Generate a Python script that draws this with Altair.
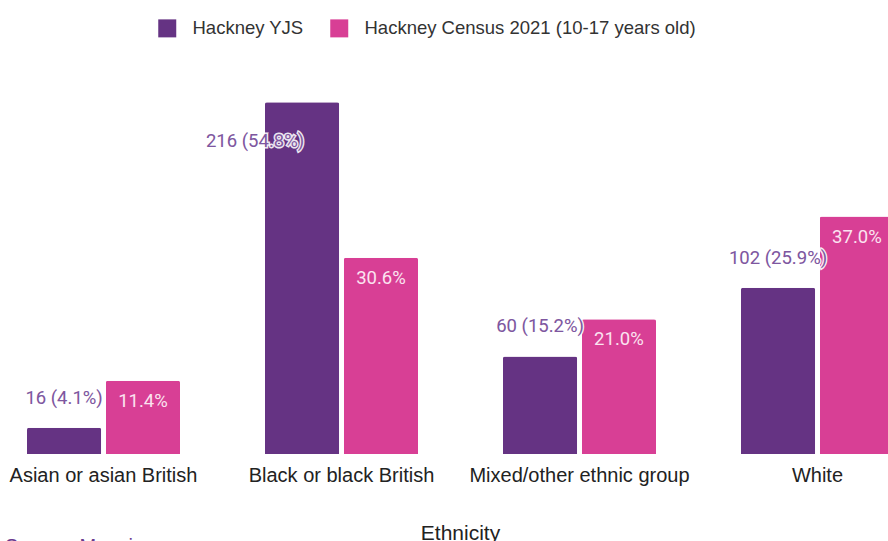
import altair as alt
import pandas as pd

categories = ["Asian or asian British", "Black or black British",
              "Mixed/other ethnic group", "White"]
series_names = ["Hackney YJS", "Hackney Census 2021 (10-17 years old)"]
yjs_counts = [16, 216, 60, 102]
yjs_pct = [4.1, 54.8, 15.2, 25.9]
census_pct = [11.4, 30.6, 21.0, 37.0]
colors = ["#653383", "#d83f95"]

rows = []
for c, n, p in zip(categories, yjs_counts, yjs_pct):
    rows.append({"cat": c, "series": series_names[0], "value": p,
                 "label": f"{n} ({p:.1f}%)"})
for c, p in zip(categories, census_pct):
    rows.append({"cat": c, "series": series_names[1], "value": p,
                 "label": f"{p:.1f}%"})
df = pd.DataFrame(rows)

x = alt.X("cat:N", sort=categories, title="Ethnicity",
          scale=alt.Scale(range=[27, 894], paddingInner=0.357, paddingOuter=0),
          axis=alt.Axis(labelAngle=0, domain=False, ticks=False,
                        labelFont="Liberation Sans", labelFontSize=20,
                        labelColor="#222222", labelPadding=11,
                        labelOverlap=False, labelLimit=400,
                        titleFont="Liberation Sans", titleFontSize=21,
                        titleFontWeight="normal", titleColor="#222222",
                        titleX=460, titleY=85, titleBaseline="alphabetic"))
xo = alt.XOffset("series:N", sort=series_names,
                 scale=alt.Scale(paddingInner=0.06))
y = alt.Y("value:Q", axis=None,
          scale=alt.Scale(domain=[0, 60], nice=False, zero=True))

base = alt.Chart(df)

bars = base.mark_bar(cornerRadiusTopLeft=2, cornerRadiusTopRight=2).encode(
    x=x, xOffset=xo, y=y,
    color=alt.Color("series:N", sort=series_names,
                    scale=alt.Scale(domain=series_names, range=colors),
                    legend=alt.Legend(title=None, orient="none",
                                      direction="horizontal",
                                      legendX=158, legendY=-50,
                                      symbolType="square", symbolSize=324,
                                      symbolStrokeWidth=0, symbolOpacity=1,
                                      labelFont="Liberation Sans",
                                      labelFontSize=18.5, labelColor="#333333",
                                      labelOffset=16, columnPadding=26,
                                      padding=0, labelLimit=500)),
)

def yjs_text(filter_expr, dx, dy):
    layers = []
    for stroke in (True, False):
        kw = dict(font="Roboto", fontSize=18.5, align="center",
                  baseline="middle", dx=dx, dy=dy, color="#7e57a0")
        if stroke:
            kw.update(stroke="white", strokeWidth=3, strokeOpacity=0.9)
        layers.append(base.mark_text(**kw).encode(
            x=x, xOffset=xo, y=y, text="label:N"
        ).transform_filter(filter_expr))
    return layers

yjs_main = yjs_text(f"datum.series == '{series_names[0]}' && datum.cat != '{categories[1]}'", 0, -30)
yjs_black = yjs_text(f"datum.series == '{series_names[0]}' && datum.cat == '{categories[1]}'", -47, 39)

census_text = base.mark_text(font="Roboto", fontSize=18.5, align="center",
                             baseline="middle", dy=20, color="#fbe3f0").encode(
    x=x, xOffset=xo, y=y, text="label:N"
).transform_filter(f"datum.series == '{series_names[1]}'")

source = alt.Chart(pd.DataFrame({"t": ["Source: Mosaic"]})).mark_text(
    font="Liberation Sans", fontSize=20, align="left", baseline="alphabetic",
    color="#6b3a8f").encode(x=alt.value(5), y=alt.value(484), text="t:N")

chart = alt.layer(bars, *yjs_main, *yjs_black, census_text, source).properties(
    width=888, height=385,
    autosize=alt.AutoSizeParams(type="none"),
    padding={"top": 69, "left": 0, "right": 0, "bottom": 87},
).configure(background="white").configure_view(stroke=None)

chart.save("out.html", embed_options={"renderer": "svg", "actions": False})
